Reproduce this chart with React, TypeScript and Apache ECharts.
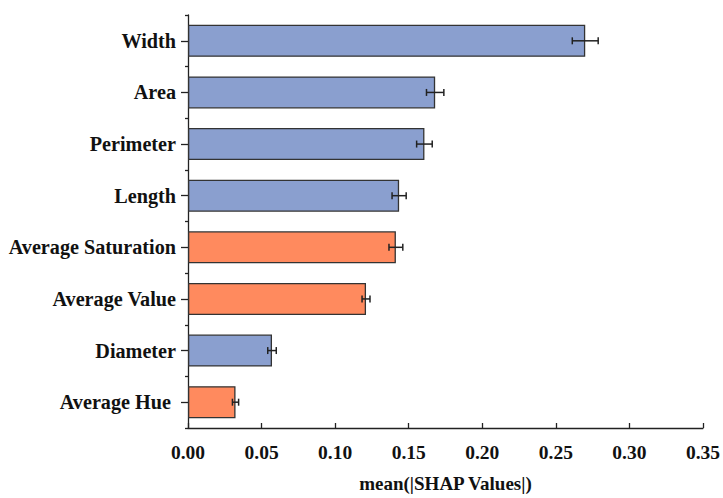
import React, { useEffect, useRef } from "react";
import * as echarts from "echarts";

const categories = [
  "Width",
  "Area",
  "Perimeter",
  "Length",
  "Average Saturation",
  "Average Value",
  "Diameter",
  "Average Hue ",
];
const values = [0.27, 0.168, 0.1607, 0.1435, 0.1413, 0.121, 0.0571, 0.0323];
const errors = [0.0088, 0.0059, 0.0053, 0.0048, 0.0047, 0.0027, 0.0029, 0.0021];
const groups = ["shape", "shape", "shape", "shape", "color", "color", "shape", "color"];
const xTicks = [0, 0.05, 0.1, 0.15, 0.2, 0.25, 0.3, 0.35];

const BLUE = "#8A9FCF";
const ORANGE = "#FF8A5E";
const FONT = "'Liberation Serif', 'Times New Roman', serif";

export default function App() {
  const ref = useRef<HTMLDivElement>(null);
  useEffect(() => {
    if (!ref.current) return;
    const chart = echarts.init(ref.current, undefined, { renderer: "svg" });
    const labelStyle = {
      fontFamily: FONT,
      fontWeight: "bold" as const,
      fontSize: 19.5,
      color: "#111",
    };
    chart.setOption({
      animation: false,
      backgroundColor: "#fff",
      grid: { left: 188, right: 18, top: 15, bottom: 66 },
      xAxis: {
        type: "value",
        min: 0,
        max: xTicks[xTicks.length - 1],
        interval: 0.05,
        name: "mean(|SHAP Values|)",
        nameLocation: "middle",
        nameGap: 46,
        nameTextStyle: { ...labelStyle, fontSize: 19 },
        axisLine: { show: true, lineStyle: { color: "#222", width: 1.3 } },
        axisTick: { show: true, inside: true, length: 5, lineStyle: { color: "#222", width: 1.3 } },
        axisLabel: {
          ...labelStyle,
          margin: 14,
          formatter: (v: number) => v.toFixed(2),
        },
        splitLine: { show: false },
      },
      yAxis: [
        {
          type: "category",
          data: categories,
          inverse: true,
          axisLine: { show: true, lineStyle: { color: "#222", width: 1.3 } },
          axisTick: { show: true, alignWithLabel: true, length: 7, lineStyle: { color: "#222", width: 1.3 } },
          axisLabel: { ...labelStyle, fontSize: 20.2, margin: 12 },
        },
        {
          type: "category",
          data: categories,
          inverse: true,
          position: "left",
          axisLine: { show: false },
          axisTick: { show: true, length: 3, lineStyle: { color: "#222", width: 1.3 } },
          axisLabel: { show: false },
        },
      ],
      series: [
        {
          type: "bar",
          yAxisIndex: 0,
          barWidth: 32,
          data: values.map((v, i) => ({
            value: v,
            itemStyle: {
              color: groups[i] === "shape" ? BLUE : ORANGE,
              borderColor: "#333",
              borderWidth: 1.3,
            },
          })),
        },
        {
          type: "custom",
          yAxisIndex: 0,
          z: 10,
          data: values.map((v, i) => [v, i, errors[i]]),
          renderItem: (params: any, api: any) => {
            const v = api.value(0);
            const idx = api.value(1);
            const e = api.value(2);
            const p1 = api.coord([v - e, idx]);
            const p2 = api.coord([v + e, idx]);
            const h = 3.5;
            const style = { stroke: "#222", lineWidth: 1.5 };
            return {
              type: "group",
              children: [
                { type: "line", shape: { x1: p1[0], y1: p1[1], x2: p2[0], y2: p2[1] }, style },
                { type: "line", shape: { x1: p1[0], y1: p1[1] - h, x2: p1[0], y2: p1[1] + h }, style },
                { type: "line", shape: { x1: p2[0], y1: p2[1] - h, x2: p2[0], y2: p2[1] + h }, style },
              ],
            };
          },
        },
      ],
    });
    return () => chart.dispose();
  }, []);
  return (
    <div
      ref={ref}
      style={{ position: "fixed", left: 0, top: 0, width: 723, height: 498 }}
    />
  );
}
